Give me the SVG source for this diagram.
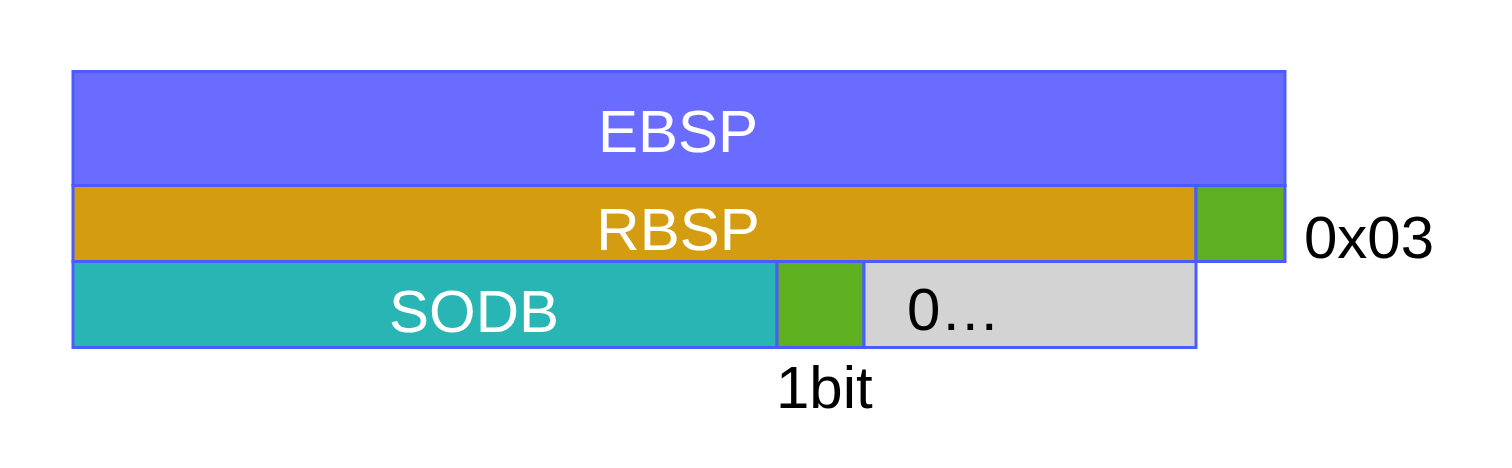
<svg xmlns="http://www.w3.org/2000/svg" width="1512" height="468" viewBox="0 0 1512 468">
<style>
rect{stroke:#4a5cff;stroke-width:3}
.w{fill:#ffffff;font-family:"Liberation Sans",Arial,sans-serif;font-size:60px;text-anchor:middle}
.b{fill:#000000;font-family:"Liberation Sans",Arial,sans-serif;font-size:60px}
</style>
<rect width="1512" height="468" fill="#ffffff" style="stroke:none"/>
<g id="ebsp"><rect x="73" y="71.5" width="1212" height="114" fill="#6a6bff"/><text class="w" x="678" y="152">EBSP</text></g>
<g id="rbsp"><rect x="73" y="185.5" width="1123" height="76" fill="#d49c10"/><text class="w" x="678" y="250">RBSP</text></g>
<g id="stop03"><rect x="1196" y="185.5" width="89" height="76" fill="#5eb020"/></g>
<g id="sodb"><rect x="73" y="261.5" width="704" height="86" fill="#2ab5b5"/><text class="w" x="474" y="332">SODB</text></g>
<g id="stopbit"><rect x="777" y="261.5" width="87" height="86" fill="#5eb020"/></g>
<g id="zeros"><rect x="864" y="261.5" width="332" height="86" fill="#d3d3d3"/><text class="b" x="907" y="330">0…</text></g>
<g id="labels"><text class="b" x="776" y="408">1bit</text><text class="b" x="1304" y="258">0x03</text></g>
<g id="connectors"></g>
</svg>
